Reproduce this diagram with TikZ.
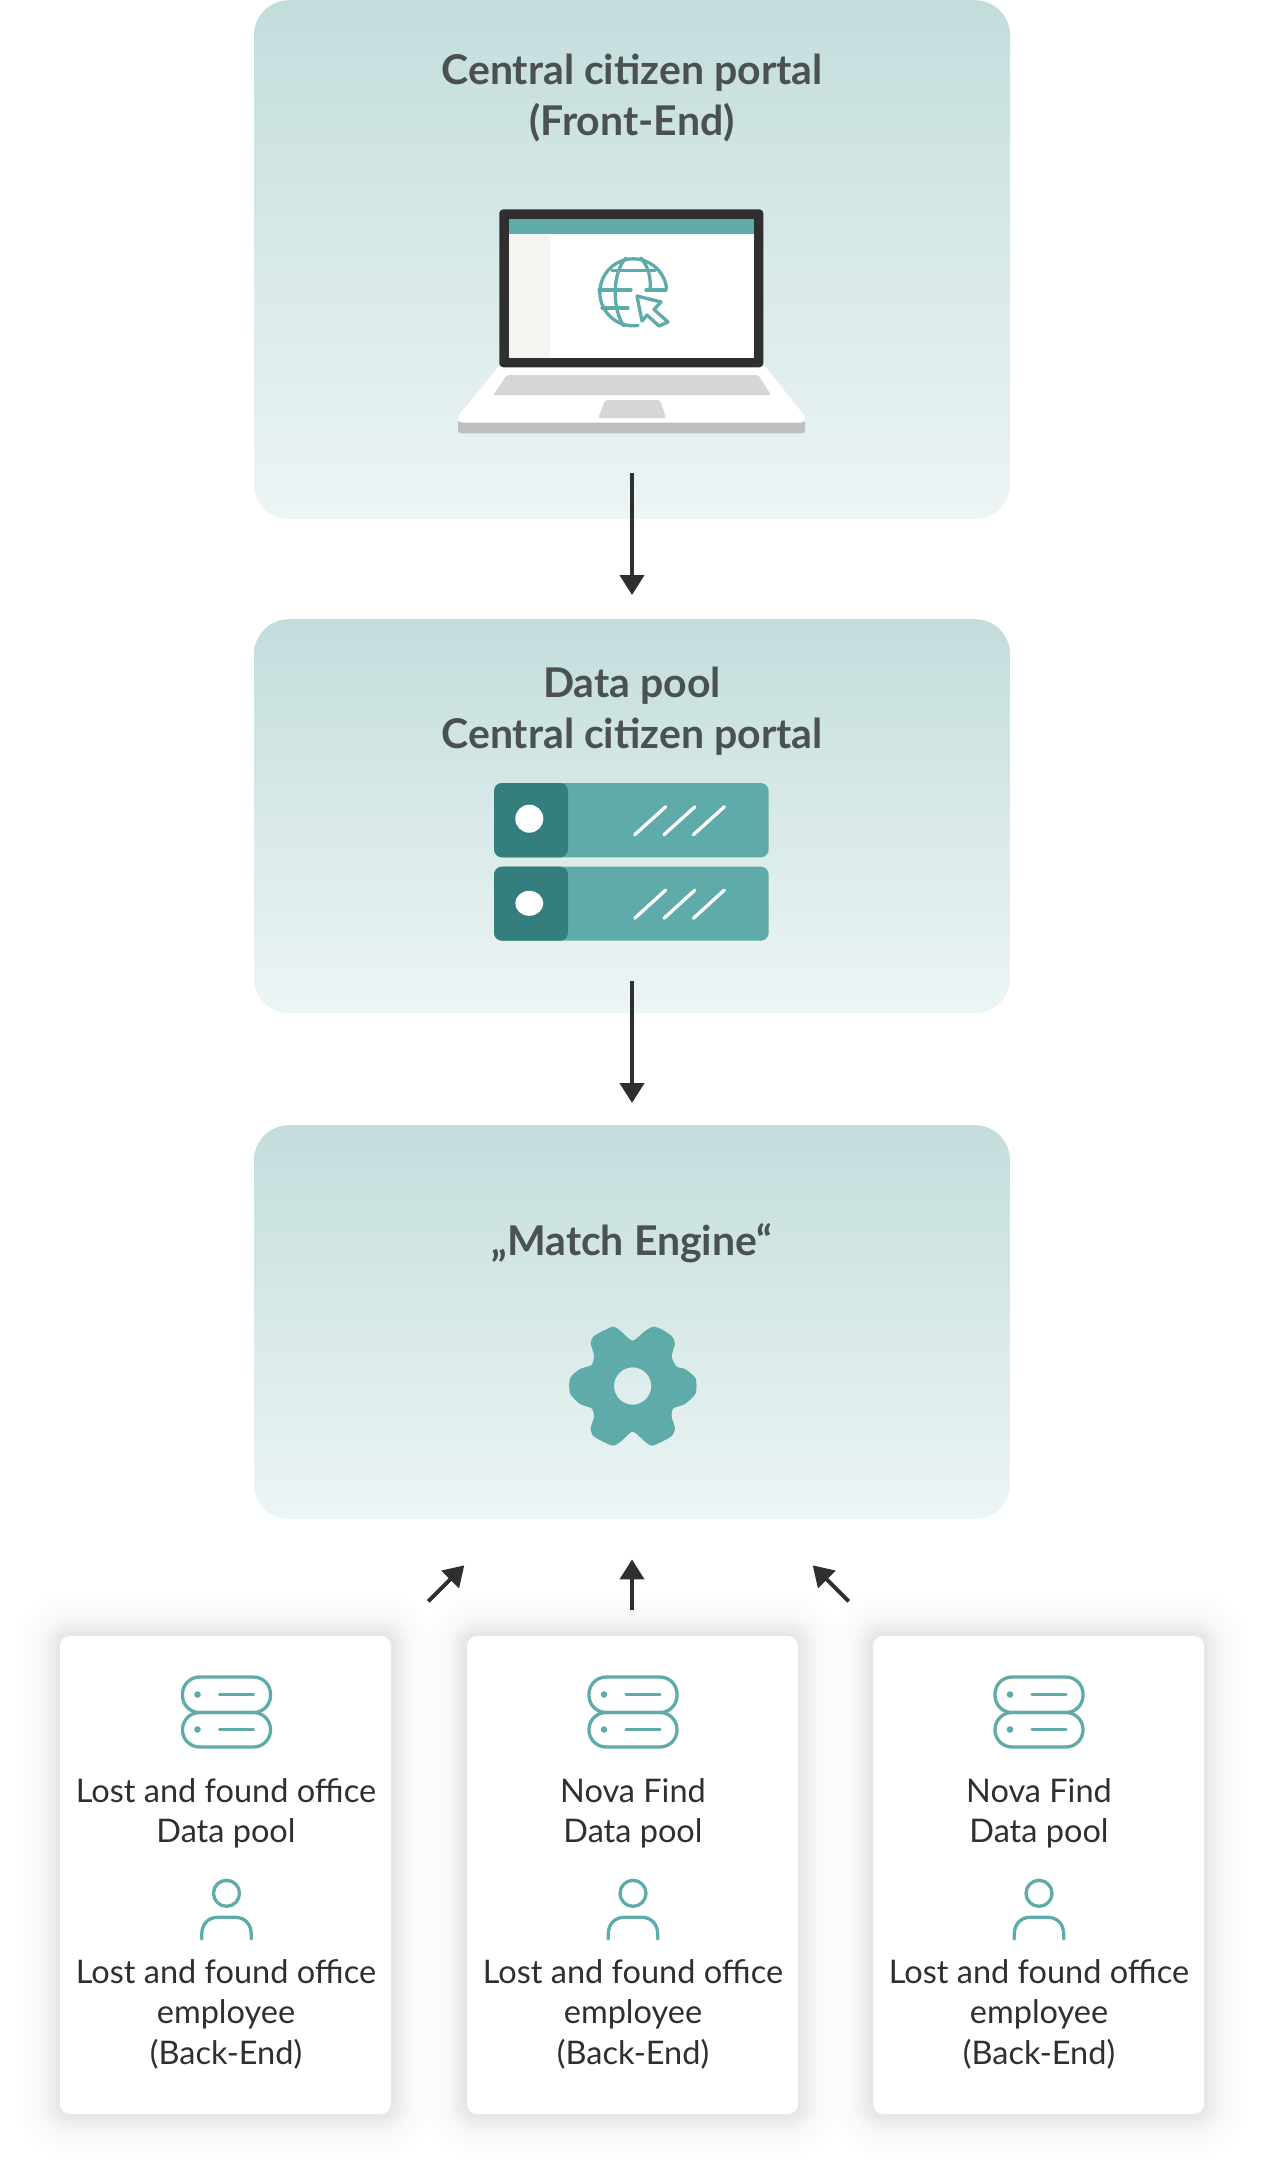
\documentclass[tikz,border=0pt]{standalone}
\usepackage{fontspec}
\setmainfont{Lato}
\usetikzlibrary{arrows.meta}
\definecolor{teal1}{HTML}{5FABA9}
\definecolor{teal2}{HTML}{347F7D}
\definecolor{panelTop}{HTML}{C3DDDC}
\definecolor{panelBot}{HTML}{EDF5F5}
\definecolor{ink}{HTML}{2F2F2F}
\definecolor{headink}{HTML}{4A5150}
\definecolor{sidebar}{HTML}{F5F4F0}
\tikzset{
  panel/.style={rounded corners=35pt,top color=panelTop,bottom color=panelBot,draw=none,minimum width=756pt,inner sep=0pt},
  cardbox/.style={rounded corners=10pt,fill=white,draw=none,minimum width=331pt,minimum height=478pt,inner sep=0pt},
  headtext/.style={font=\fontsize{41}{51.5}\selectfont\bfseries,text=headink,align=center,inner sep=0pt},
  bodytext/.style={font=\fontsize{32.5}{40.5}\selectfont,text=ink,align=center,inner sep=0pt},
  flow/.style={draw=ink,line width=4pt,-{Triangle[width=24pt,length=20pt]}},
  icon/.style={draw=teal1,line width=3.3pt,line cap=round,line join=round},
}
\newcommand{\cardshadow}[2]{%
  \foreach \s/\o in {44/0.004,40/0.004,36/0.004,32/0.004,28/0.004,24/0.004,20/0.004,18/0.008,16/0.008,14/0.008,12/0.008,10/0.008,8/0.008,6/0.008,4/0.008,2/0.008}{
    \fill[black,opacity=\o,rounded corners=10pt+\s*1pt]
      (#1-165.5-\s,#2-239-\s) rectangle (#1+165.5+\s,#2+239+\s);
  }
}
\newcommand{\cardicons}[1]{%
  \begin{scope}[shift={(#1,0)}]
    \draw[icon,rounded corners=17pt] (-44,1677) rectangle (44,1712.5);
    \draw[icon,rounded corners=17pt] (-44,1712.5) rectangle (44,1747);
    \fill[teal1] (-29,1694.5) circle (3.3);
    \fill[teal1] (-29,1729.5) circle (3.3);
    \draw[icon] (-7,1694.5) -- (27,1694.5);
    \draw[icon] (-7,1729.5) -- (27,1729.5);
    \draw[icon] (0,1893.3) circle (13);
    \draw[icon] (-24.7,1939) -- (-24.7,1934) .. controls (-24.7,1924) and (-18,1917.3) .. (-9,1917.3) -- (9,1917.3) .. controls (18,1917.3) and (24.7,1924) .. (24.7,1934) -- (24.7,1939);
  \end{scope}
}
\begin{document}
\begin{tikzpicture}[x=1pt,y=-1pt]
\useasboundingbox (0,0) rectangle (1264,2175);
\fill[white] (0,0) rectangle (1264,2175);
% panels
\node[panel,minimum height=519pt,anchor=north] (portal) at (632,0) {};
\node[panel,minimum height=394pt,anchor=north] (pool) at (632,619) {};
\node[panel,minimum height=394pt,anchor=north] (engine) at (632,1125) {};
\node[headtext] (portalT) at (632,98) {Central citizen portal\\(Front-End)};
\node[headtext] (poolT) at (632,711) {Data pool\\Central citizen portal};
\node[headtext] (engineT) at (632,1243) {„Match Engine“};
% laptop
\fill[rounded corners=3pt,black!25] (458,420) -- (805,420) -- (805,433.3) -- (458,433.3) -- cycle;
\fill[rounded corners=4pt,white] (500,365) -- (764,365) -- (805.5,417) -- (805,422.5) -- (458,422.5) -- (457.5,417) -- cycle;
\fill[rounded corners=4pt,ink] (499.3,209.3) rectangle (763.3,367.3);
\fill[white] (508.7,218.7) rectangle (754,358);
\fill[teal1] (508.7,218.7) rectangle (754,234);
\fill[sidebar] (508.7,234) rectangle (550,358);
\fill[rounded corners=2pt,black!16] (506.7,375) -- (758.3,375) -- (771,395) -- (493.3,395) -- cycle;
\fill[rounded corners=2pt,black!16] (605,400) -- (660,400) -- (666,418) -- (598.3,418) -- cycle;
% globe
\draw[icon] (638,325.5) arc[start angle=82,end angle=353,radius=33.5,y=-1pt];
% server
\fill[rounded corners=8pt,teal1] (494,783) rectangle (768.7,857.3);
\fill[rounded corners=8pt,teal1] (494,866.7) rectangle (768.7,940.7);
\fill[rounded corners=8pt,teal2] (494,783) rectangle (568,857.3);
\fill[rounded corners=8pt,teal2] (494,866.7) rectangle (568,940.7);
\fill[white] (529.3,818.7) circle (14);
\fill[white] (529.3,903.3) ellipse (14 and 12.5);
\foreach \dx in {0,29.3,58.7}{
  \draw[white,line width=3.3pt,line cap=round] (634.7+\dx,834.7) -- (665.7+\dx,806.7);
  \draw[white,line width=3.3pt,line cap=round] (634.7+\dx,918.3) -- (665.7+\dx,890);
}
% gear
\begin{scope}[shift={(530,1300)},x=0.3333pt,y=-0.3333pt]
\fill[teal1,even odd rule] plot[smooth cycle,tension=0.4] coordinates {(308,122)(345,93)(370,80)(395,88)(425,108)(435,130)(425,170)(440,200)(465,207)(497,235)(497,280)(465,312)(430,325)(425,350)(435,385)(425,408)(390,428)(365,437)(345,425)(308,395)(272,425)(250,437)(225,428)(190,408)(182,385)(192,350)(185,325)(150,312)(120,280)(120,235)(150,207)(185,195)(192,165)(182,130)(192,108)(225,90)(250,80)(272,93)} (308,258) circle (56);
\end{scope}
% cards
\cardshadow{225.5}{1875}
\cardshadow{632.5}{1875}
\cardshadow{1038.5}{1875}
\node[cardbox] (cardA) at (225.5,1875) {};
\node[cardbox] (cardB) at (632.5,1875) {};
\node[cardbox] (cardC) at (1038.5,1875) {};
\cardicons{226.5}
\cardicons{633}
\cardicons{1039}
\node[bodytext] (a1) at (226,1813.5) {Lost and found office\\Data pool};
\node[bodytext] (a2) at (226,2014) {Lost and found office\\employee\\(Back-End)};
\node[bodytext] (b1) at (633,1813.5) {Nova Find\\Data pool};
\node[bodytext] (b2) at (633,2014) {Lost and found office\\employee\\(Back-End)};
\node[bodytext] (c1) at (1039,1813.5) {Nova Find\\Data pool};
\node[bodytext] (c2) at (1039,2014) {Lost and found office\\employee\\(Back-End)};
% globe details
\draw[icon] (612,270.5) -- (655,270.5);
\draw[icon] (599,290) -- (631,290);
\draw[icon] (646,290) -- (666,290);
\draw[icon] (602,308) -- (628,308);
\draw[icon] (626,258) .. controls (612,272) and (612,310) .. (624,326);
\draw[icon] (641,258) .. controls (649,268) and (651,278) .. (650,290);
\draw[icon] (637,296) -- (661,302) -- (654,309.5) -- (668,322) -- (659,326) -- (647,315) -- (642,321) -- cycle;
% connectors
\draw[flow,shorten <=-46pt,shorten >=24pt] (portal.south) -- (pool.north);
\draw[flow,shorten <=-32pt,shorten >=22pt] (pool.south) -- (engine.north);
\draw[flow,shorten <=26pt,shorten >=40pt] (cardB.north -| engine.south) -- (engine.south);
\coordinate (la) at (428.3,1601.3);
\coordinate (lb) at (464.3,1565.3);
\coordinate (ra) at (848.7,1601.3);
\coordinate (rb) at (812.7,1565.3);
\draw[flow] (la) -- (lb);
\draw[flow] (ra) -- (rb);
\end{tikzpicture}
\end{document}
